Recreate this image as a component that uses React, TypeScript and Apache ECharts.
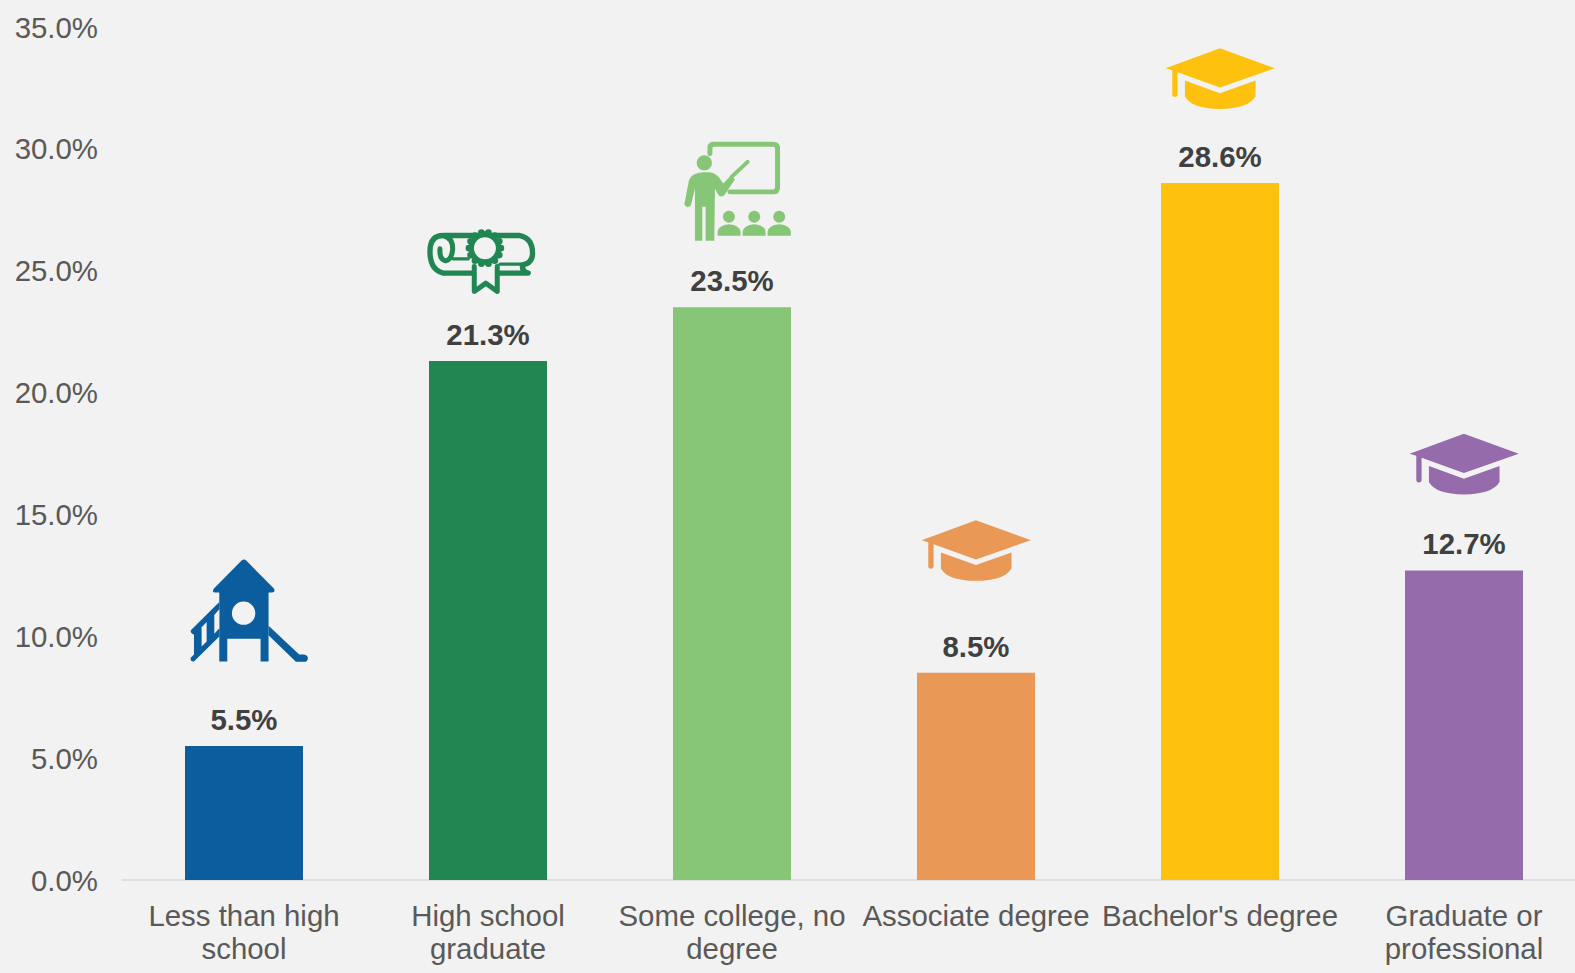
import React, { useEffect, useRef } from "react";
import * as echarts from "echarts";

const categories = [
  "Less than high\nschool",
  "High school\ngraduate",
  "Some college, no\ndegree",
  "Associate degree",
  "Bachelor's degree",
  "Graduate or\nprofessional",
];
const values = [5.5, 21.3, 23.5, 8.5, 28.6, 12.7];
const colors = ["#0B5D9E", "#218651", "#88C677", "#E99856", "#FEC20E", "#956BAB"];
const iconKinds = ["playground", "diploma", "classroom", "cap", "cap", "cap"];
// offset of each icon's drawing origin from the top-centre of its bar
const iconDx = [-74, -78, -67, -71.7, -71.7, -71.7];
const iconDy = [-206, -146, -177, -166, -148, -150];

const BG = "#F2F2F2";

const capTop = "M215 40 L380 100 L215 158 L88 112 L88 178 Q88 186 80 186 Q72 186 72 178 L72 106 L52 100 Z";
const capBase = "M110 137 L215 175 L322 137 L322 185 Q300 222 215 222 Q130 222 110 185 Z";

const circleD = (cx: number, cy: number, r: number) =>
  `M${cx - r} ${cy} A${r} ${r} 0 1 1 ${cx + r} ${cy} A${r} ${r} 0 1 1 ${cx - r} ${cy} Z`;

const bumps = Array.from({ length: 14 }, (_, i) => {
  const a = (i / 14) * Math.PI * 2;
  return circleD(225 + 48 * Math.cos(a), 100 + 48 * Math.sin(a), 10);
}).join(" ");

function iconChildren(kind: string, color: string) {
  const fill = (d: string, f = color) => ({
    type: "path",
    shape: { pathData: d },
    style: { fill: f },
  });
  const line = (d: string, w: number, f = "none") => ({
    type: "path",
    shape: { pathData: d },
    style: { fill: f, stroke: color, lineWidth: w, lineCap: "round", lineJoin: "round" },
  });
  if (kind === "cap") return [fill(capTop), fill(capBase)];
  if (kind === "playground") {
    return [
      fill(
        "M215 62 Q222 55 229 62 L312 146 Q318 158 306 158 L296 158 L296 365 L272 365 L272 297 L172 297 L172 365 L148 365 L148 158 L136 158 Q124 158 132 146 Z"
      ),
      fill(circleD(221, 220, 35), BG),
      fill("M296 258 L388 344 L402 344 Q414 346 414 355 Q414 366 402 366 L378 366 L296 286 Z"),
      fill("M148 186 L64 270 Q58 278 70 284 L72 284 L72 344 L62 354 Q60 366 72 365 L148 290 Z"),
      fill("M133 225 L148 208 L148 265 L133 282 Z", BG),
      fill("M95 262 L110 246 L110 305 L95 320 Z", BG),
    ];
  }
  if (kind === "diploma") {
    return [
      line("M190 175 L100 175 Q60 165 60 110 Q60 62 100 62 L330 62 Q368 70 368 115 Q368 145 338 150 Q335 170 355 175 L262 175", 16),
      line("M100 62 Q130 70 128 105 Q125 135 107 138 Q88 135 90 102", 15),
      line("M130 132 L175 132", 10),
      line("M270 148 L340 148", 10),
      line("M193 155 L193 230 L228 205 L262 230 L262 155", 15, BG),
      fill(circleD(225, 100, 50) + " " + bumps),
      fill(circleD(225, 100, 33), BG),
    ];
  }
  return [
    line("M135 70 L135 52 Q135 42 148 42 L325 42 Q338 42 338 55 L338 172 Q338 185 325 185 L195 185", 15),
    line("M248 95 L200 140", 12),
    fill(circleD(118, 98, 23)),
    fill(
      "M72 150 Q80 128 115 126 L135 126 Q158 130 168 150 L175 160 L198 136 L210 148 L178 195 Q165 205 158 190 L150 175 L148 332 L122 332 L122 230 L112 230 L112 332 L90 332 L90 175 L78 225 Q65 238 58 222 Z"
    ),
    fill(circleD(192, 260, 18)),
    fill(circleD(268, 260, 18)),
    fill(circleD(343, 260, 18)),
    fill("M158 317 L158 305 Q160 285 192 282 Q225 285 227 305 L227 317 Z"),
    fill("M233 317 L233 305 Q235 285 268 282 Q300 285 302 305 L302 317 Z"),
    fill("M308 317 L308 305 Q310 285 343 282 Q376 285 378 305 L378 317 Z"),
  ];
}

const FONT = "'Liberation Sans', Arial, sans-serif";

export default function App() {
  const ref = useRef<HTMLDivElement>(null);
  useEffect(() => {
    document.body.style.margin = "0";
    document.documentElement.style.overflow = "hidden";
    const chart = echarts.init(ref.current!, null, { renderer: "svg" });
    chart.setOption({
      animation: false,
      backgroundColor: BG,
      grid: { left: 122, top: 27, right: -11, bottom: 93, outerBoundsMode: "none", containLabel: false },
      xAxis: {
        type: "category",
        data: categories,
        axisTick: { show: false },
        axisLine: { lineStyle: { color: "#D9D9D9", width: 1.5 } },
        axisLabel: {
          color: "#595959",
          fontFamily: FONT,
          fontSize: 29.4,
          lineHeight: 33,
          margin: 19,
          interval: 0,
          hideOverlap: false,
        },
      },
      yAxis: {
        type: "value",
        min: 0,
        max: 35,
        interval: 5,
        splitLine: { show: false },
        axisLine: { show: false },
        axisTick: { show: false },
        axisLabel: {
          color: "#595959",
          fontFamily: FONT,
          fontSize: 29.4,
          margin: 24,
          formatter: (v: number) => v.toFixed(1) + "%",
        },
      },
      series: [
        {
          type: "bar",
          barWidth: 118,
          data: values.map((v, i) => ({ value: v, itemStyle: { color: colors[i] } })),
          label: {
            show: true,
            position: "top",
            distance: 12,
            color: "#404040",
            fontFamily: FONT,
            fontSize: 29.4,
            fontWeight: "bold",
            formatter: (p: any) => p.value.toFixed(1) + "%",
          },
        },
        {
          type: "custom",
          silent: true,
          data: values.map((v, i) => [i, v]),
          encode: { x: 0, y: 1 },
          renderItem: (params: any, api: any) => {
            const i = params.dataIndex;
            const [cx, top] = api.coord([api.value(0), api.value(1)]);
            return {
              type: "group",
              x: cx + iconDx[i],
              y: top + iconDy[i],
              scaleX: 1 / 3,
              scaleY: 1 / 3,
              children: iconChildren(iconKinds[i], colors[i]),
            };
          },
        },
      ],
    });
    return () => chart.dispose();
  }, []);
  return <div ref={ref} style={{ width: 1575, height: 973 }} />;
}
